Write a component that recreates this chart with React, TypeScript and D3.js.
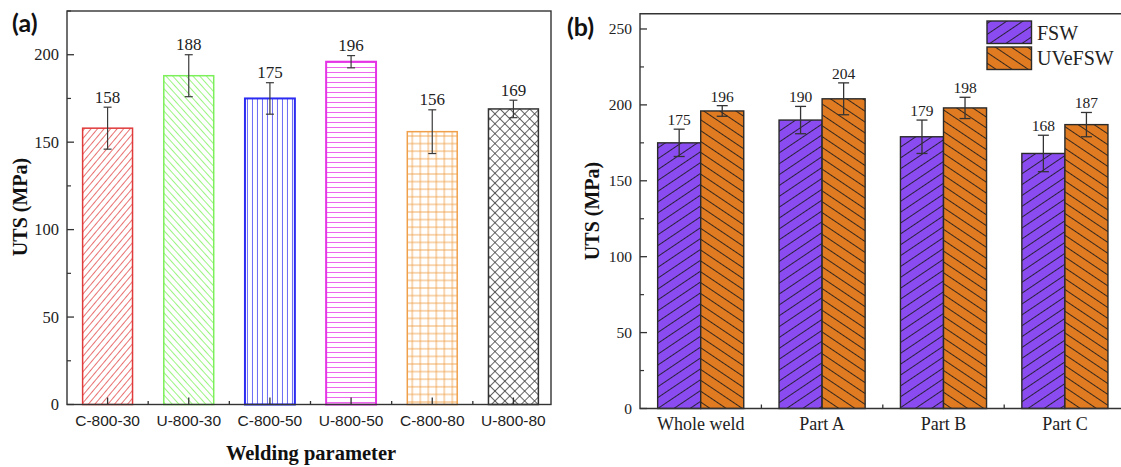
import React from "react";
import * as d3 from "d3";

// ---------- Data: panel (a) ----------
const catsA = ["C-800-30", "U-800-30", "C-800-50", "U-800-50", "C-800-80", "U-800-80"];
const valsA = [158, 188, 175, 196, 156, 169];
const errA = [12, 12, 9, 3.5, 12.5, 5];
const ticksA = [0, 50, 100, 150, 200];
const minorA = [25, 75, 125, 175, 225];

// ---------- Data: panel (b) ----------
const groupsB = ["Whole weld", "Part A", "Part B", "Part C"];
const seriesB = ["FSW", "UVeFSW"];
const fswVals = [175, 190, 179, 168];
const fswErr = [9, 9, 11, 12];
const uveVals = [196, 204, 198, 187];
const uveErr = [3.5, 10.5, 7, 8];
const ticksB = [0, 50, 100, 150, 200, 250];
const minorB = [25, 75, 125, 175, 225];

// ---------- Styles ----------
const colorsA = ["#e03a3a", "#7cf05a", "#2b2bf2", "#e534e5", "#f0a04a", "#333333"];
const patternIdsA = ["pRed", "pGreen", "pBlue", "pMag", "pOrange", "pCross"];
const colorsB = ["#8a4cf0", "#e07b22"];
const patternIdsB = ["pFSW", "pUVe"];
const SERIF = "'Liberation Serif', 'Times New Roman', serif";
const SANS = "'Liberation Sans', Arial, sans-serif";

export default function App() {
  // Panel (a) scales
  const xA = d3.scaleBand().domain(catsA).range([67, 554]).paddingInner(0.385).paddingOuter(0.1925);
  const yA = d3.scaleLinear().domain([0, 225]).range([404.5, 11]);
  const frameA = { left: 67, right: 551, top: 11, bottom: 404.5 };

  // Panel (b) scales
  const xB = d3.scaleBand().domain(groupsB).range([640, 1125.6]);
  const xB1 = d3.scaleBand().domain(seriesB).range([0, xB.bandwidth()]).paddingInner(0).paddingOuter(0.41);
  const yB = d3.scaleLinear().domain([0, 260]).range([408.5, 13.8]);
  const frameB = { left: 640, right: 1126, top: 13.8, bottom: 408.5 };

  const bVals = [fswVals, uveVals];
  const bErrs = [fswErr, uveErr];

  const boundariesA = catsA.slice(1).map((c) => xA(c)! - (xA.step() - xA.bandwidth()) / 2);
  const boundariesB = groupsB.slice(1).map((g) => xB(g)!);

  return (
    <svg width={1121} height={467} style={{ position: "absolute", left: 0, top: 0, background: "#fff" }}>
      <defs>
        <pattern id="pRed" patternUnits="userSpaceOnUse" width={5} height={5} patternTransform="rotate(40)">
          <rect width={5} height={5} fill="#fff" />
          <line x1={2.5} y1={0} x2={2.5} y2={5} stroke={colorsA[0]} strokeWidth={0.9} strokeOpacity={0.8} />
        </pattern>
        <pattern id="pGreen" patternUnits="userSpaceOnUse" width={5} height={5} patternTransform="rotate(-42)">
          <rect width={5} height={5} fill="#fff" />
          <line x1={2.5} y1={0} x2={2.5} y2={5} stroke={colorsA[1]} strokeWidth={0.9} strokeOpacity={0.85} />
        </pattern>
        <pattern id="pBlue" patternUnits="userSpaceOnUse" width={5} height={10} x={xA(catsA[2])}>
          <rect width={5} height={10} fill="#fff" />
          <line x1={2.5} y1={0} x2={2.5} y2={10} stroke={colorsA[2]} strokeWidth={1} strokeOpacity={0.7} />
        </pattern>
        <pattern id="pMag" patternUnits="userSpaceOnUse" width={10} height={5}>
          <rect width={10} height={5} fill="#fff" />
          <line x1={0} y1={2.5} x2={10} y2={2.5} stroke={colorsA[3]} strokeWidth={1} strokeOpacity={0.75} />
        </pattern>
        <pattern id="pOrange" patternUnits="userSpaceOnUse" width={8} height={7.6} x={xA(catsA[4])! + 1} y={3}>
          <rect width={8} height={7.6} fill="#fff" />
          <line x1={4} y1={0} x2={4} y2={7.6} stroke={colorsA[4]} strokeWidth={1} strokeOpacity={0.85} />
          <line x1={0} y1={3.8} x2={8} y2={3.8} stroke={colorsA[4]} strokeWidth={1} strokeOpacity={0.85} />
        </pattern>
        <pattern id="pCross" patternUnits="userSpaceOnUse" width={7} height={7} patternTransform="rotate(45)">
          <rect width={7} height={7} fill="#fff" />
          <line x1={3.5} y1={0} x2={3.5} y2={7} stroke={colorsA[5]} strokeWidth={0.9} strokeOpacity={0.85} />
          <line x1={0} y1={3.5} x2={7} y2={3.5} stroke={colorsA[5]} strokeWidth={0.9} strokeOpacity={0.85} />
        </pattern>
        <pattern id="pFSW" patternUnits="userSpaceOnUse" width={20} height={9} patternTransform="rotate(-34)">
          <rect width={20} height={9} fill={colorsB[0]} />
          <line x1={0} y1={4.5} x2={20} y2={4.5} stroke="#1a1a1a" strokeWidth={1} strokeOpacity={0.85} />
        </pattern>
        <pattern id="pUVe" patternUnits="userSpaceOnUse" width={20} height={9} patternTransform="rotate(34)">
          <rect width={20} height={9} fill={colorsB[1]} />
          <line x1={0} y1={4.5} x2={20} y2={4.5} stroke="#1a1a1a" strokeWidth={1} strokeOpacity={0.85} />
        </pattern>
      </defs>

      {/* ================= Panel (a) ================= */}
      <text x={12} y={32} fontFamily="Lato, 'Open Sans', sans-serif" fontWeight={700} fontSize={25} fill="#111">(a)</text>

      {catsA.map((c, i) => (
        <rect
          key={c}
          x={xA(c)}
          y={yA(valsA[i])}
          width={xA.bandwidth()}
          height={yA(0) - yA(valsA[i])}
          fill={`url(#${patternIdsA[i]})`}
          stroke={colorsA[i]}
          strokeWidth={i === 2 || i === 3 ? 2 : 1.5}
        />
      ))}

      {/* frame */}
      <rect x={frameA.left} y={frameA.top} width={frameA.right - frameA.left} height={frameA.bottom - frameA.top} fill="none" stroke="#333" strokeWidth={1.4} />

      {/* y ticks */}
      {ticksA.map((t) => (
        <g key={t}>
          <line x1={frameA.left} x2={frameA.left + 7} y1={yA(t)} y2={yA(t)} stroke="#333" strokeWidth={1.3} />
          <text x={59} y={yA(t)} dy="0.35em" textAnchor="end" fontFamily={SERIF} fontSize={16.5} fill="#222">{t}</text>
        </g>
      ))}
      {minorA.map((t) => (
        <line key={t} x1={frameA.left} x2={frameA.left + 4} y1={yA(t)} y2={yA(t)} stroke="#333" strokeWidth={1.2} />
      ))}

      {/* x ticks */}
      {catsA.map((c) => {
        const cx = xA(c)! + xA.bandwidth() / 2;
        return <line key={c} x1={cx} x2={cx} y1={frameA.bottom} y2={frameA.bottom - 7} stroke="#333" strokeWidth={1.3} />;
      })}
      {boundariesA.map((bx, i) => (
        <line key={i} x1={bx} x2={bx} y1={frameA.bottom} y2={frameA.bottom - 3.5} stroke="#333" strokeWidth={1.3} />
      ))}

      {/* error bars + labels */}
      {catsA.map((c, i) => {
        const cx = xA(c)! + xA.bandwidth() / 2;
        const top = yA(valsA[i] + errA[i]);
        const bot = yA(valsA[i] - errA[i]);
        return (
          <g key={c}>
            <line x1={cx} x2={cx} y1={top} y2={bot} stroke="#3a3a3a" strokeWidth={1.2} />
            <line x1={cx - 4} x2={cx + 4} y1={top} y2={top} stroke="#3a3a3a" strokeWidth={1.2} />
            <line x1={cx - 4} x2={cx + 4} y1={bot} y2={bot} stroke="#3a3a3a" strokeWidth={1.2} />
            <text x={cx} y={top - 4.5} textAnchor="middle" fontFamily={SERIF} fontSize={17} fill="#222">{valsA[i]}</text>
          </g>
        );
      })}

      {/* x labels */}
      {catsA.map((c) => (
        <text key={c} x={xA(c)! + xA.bandwidth() / 2} y={426} textAnchor="middle" fontFamily={SANS} fontSize={15.5} fill="#222">{c}</text>
      ))}
      <text x={311} y={460} textAnchor="middle" fontFamily={SERIF} fontWeight={700} fontSize={20.5} fill="#111">Welding parameter</text>
      <text transform="translate(27,207) rotate(-90)" textAnchor="middle" fontFamily={SERIF} fontWeight={700} fontSize={20} fill="#111">UTS (MPa)</text>

      {/* ================= Panel (b) ================= */}
      <text x={567} y={36} fontFamily="Lato, 'Open Sans', sans-serif" fontWeight={700} fontSize={25} fill="#111">(b)</text>

      {groupsB.map((g, gi) => (
        <g key={g}>
          {seriesB.map((s, si) => (
            <rect
              key={s}
              x={xB(g)! + xB1(s)!}
              y={yB(bVals[si][gi])}
              width={xB1.bandwidth()}
              height={yB(0) - yB(bVals[si][gi])}
              fill={`url(#${patternIdsB[si]})`}
              stroke="#2a2a2a"
              strokeWidth={1.4}
            />
          ))}
        </g>
      ))}

      {/* frame */}
      <path d={`M${frameB.right},${frameB.top}H${frameB.left}V${frameB.bottom}H${frameB.right}`} fill="none" stroke="#333" strokeWidth={1.4} />

      {ticksB.map((t) => (
        <g key={t}>
          <line x1={frameB.left} x2={frameB.left + 7} y1={yB(t)} y2={yB(t)} stroke="#333" strokeWidth={1.3} />
          <text x={632} y={yB(t)} dy="0.35em" textAnchor="end" fontFamily={SERIF} fontSize={15.5} fill="#222">{t}</text>
        </g>
      ))}
      {minorB.map((t) => (
        <line key={t} x1={frameB.left} x2={frameB.left + 4} y1={yB(t)} y2={yB(t)} stroke="#333" strokeWidth={1.2} />
      ))}
      {boundariesB.map((bx, i) => (
        <line key={i} x1={bx} x2={bx} y1={frameB.bottom} y2={frameB.bottom - 4} stroke="#333" strokeWidth={1.3} />
      ))}

      {groupsB.map((g, gi) => (
        <g key={g}>
          {seriesB.map((s, si) => {
            const cx = xB(g)! + xB1(s)! + xB1.bandwidth() / 2;
            const v = bVals[si][gi];
            const e = bErrs[si][gi];
            const top = yB(v + e);
            const bot = yB(v - e);
            return (
              <g key={s}>
                <line x1={cx} x2={cx} y1={top} y2={bot} stroke="#333" strokeWidth={1.3} />
                <line x1={cx - 5.5} x2={cx + 5.5} y1={top} y2={top} stroke="#333" strokeWidth={1.3} />
                <line x1={cx - 5.5} x2={cx + 5.5} y1={bot} y2={bot} stroke="#333" strokeWidth={1.3} />
                <text x={cx} y={top - 4} textAnchor="middle" fontFamily={SERIF} fontSize={15.5} fill="#222">{v}</text>
              </g>
            );
          })}
        </g>
      ))}

      {groupsB.map((g) => (
        <text key={g} x={xB(g)! + xB.bandwidth() / 2} y={430} textAnchor="middle" fontFamily={SERIF} fontSize={18} fill="#222">{g}</text>
      ))}
      <text transform="translate(599,211) rotate(-90)" textAnchor="middle" fontFamily={SERIF} fontWeight={700} fontSize={20} fill="#111">UTS (MPa)</text>

      {/* legend */}
      {seriesB.map((s, si) => (
        <g key={s}>
          <rect x={987} y={21 + si * 26} width={44.5} height={22.5} fill={`url(#${patternIdsB[si]})`} stroke="#2a2a2a" strokeWidth={1.4} />
          <text x={1037} y={39.5 + si * 25} fontFamily={SERIF} fontSize={20} fill="#222">{s}</text>
        </g>
      ))}
    </svg>
  );
}
